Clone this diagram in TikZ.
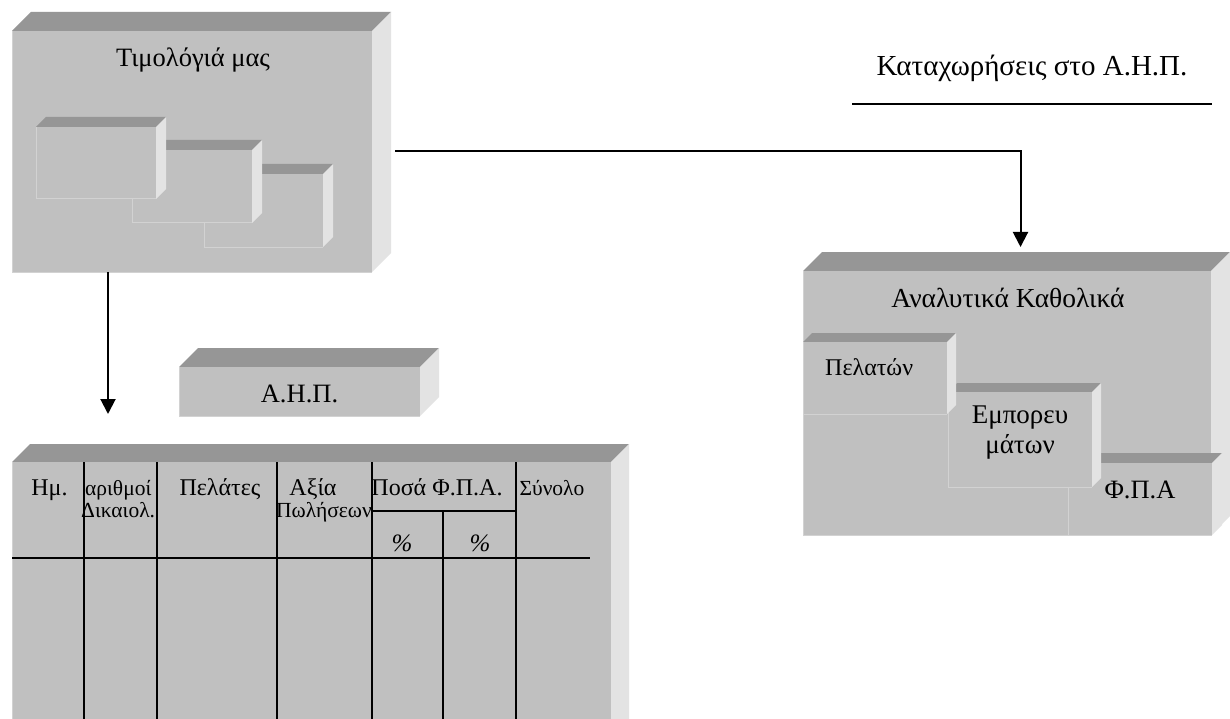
\documentclass[tikz,border=0pt]{standalone}
\usepackage{fontspec}
\setmainfont{Liberation Serif}
\usetikzlibrary{arrows.meta}

\definecolor{slabfront}{HTML}{C0C0C0}
\definecolor{slabtop}{HTML}{969696}
\definecolor{slabside}{HTML}{E3E3E3}
\definecolor{slabedge}{HTML}{D2D2D2}

% A raised slab: top and side faces, then the front face as a named node.
% #1 name, (#2,#3) front top-left, (#4,#5) front bottom-right, #6 depth
\newcommand{\slab}[6]{%
  \fill[slabtop] (#2,#3) -- (#2+#6,#3-#6) -- (#4+#6,#3-#6) -- (#4,#3) -- cycle;
  \fill[slabside] (#4,#3) -- (#4+#6,#3-#6) -- (#4+#6,#5-#6) -- (#4,#5) -- cycle;
  \node[slabface, minimum width={#4-#2}, minimum height={#5-#3}]
    (#1) at ({(#2+#4)/2},{(#3+#5)/2}) {};
  \draw[slabedge, line width=1pt] (#1.north west) -- (#1.south west) -- (#1.south east);
}

\begin{document}
\begin{tikzpicture}[x=1pt,y=-1pt,
  slabface/.style={fill=slabfront, draw=none, inner sep=0pt, outer sep=0pt, anchor=center},
  conn/.style={line width=2pt, -{Triangle[width=15pt,length=15pt]}},
  gridline/.style={line width=2pt},
  big/.style={font=\fontsize{26.5}{30}\selectfont, anchor=base, inner sep=0pt},
  mid/.style={font=\fontsize{24}{28}\selectfont, anchor=base, inner sep=0pt},
  hdr/.style={font=\fontsize{24}{26}\selectfont, anchor=base, inner sep=0pt},
  hdrs/.style={font=\fontsize{21.5}{23}\selectfont, anchor=base, inner sep=0pt},
]
\clip (0,0) rectangle (1230,719);
\fill[white] (0,0) rectangle (1230,719);

% Invoices block with its stacked sheets
\slab{tim}{12}{31}{372}{272}{19}
\slab{shc}{204}{174}{323}{247}{10}
\slab{shb}{132}{150}{252}{223}{10}
\slab{sha}{36}{127}{156}{199}{10}
\node[big] (timlbl) at (193,67) {Τιμολόγιά μας};

% Caption with rule
\node[big, font=\fontsize{29}{32}\selectfont] (cap) at (1032,76) {Καταχωρήσεις στο Α.Η.Π.};
\draw[line width=2pt] (852,104) -- (1212,104);

% Small label block
\slab{ahp}{179}{367}{420}{416}{19}
\node[big] (ahplbl) at (299.5,402) {Α.Η.Π.};

% Ledger table
\slab{tbl}{12}{462}{611}{745}{18}
\draw[gridline] (83.5,462) -- (83.5,719);
\draw[gridline] (156.5,462) -- (156.5,719);
\draw[gridline] (276.5,462) -- (276.5,719);
\draw[gridline] (372,462) -- (372,719);
\draw[gridline] (443,511) -- (443,719);
\draw[gridline] (516,462) -- (516,719);
\draw[gridline] (372,511) -- (516,511);
\draw[gridline] (12,558) -- (590,558);
\node[hdr] (hd1) at (49.5,495) {Ημ.};
\node[hdrs, anchor=base west] (hd2a) at (85,495) {αριθμοί};
\node[hdrs, anchor=base west] (hd2b) at (81,517) {Δικαιολ.};
\node[hdr] (hd3) at (220,495) {Πελάτες};
\node[hdr] (hd4a) at (313,495) {Αξία};
\node[hdrs, anchor=base west] (hd4b) at (276,517) {Πωλήσεων};
\node[hdr] (hd5) at (437,495) {Ποσά Φ.Π.Α.};
\node[hdrs] (hd6) at (552,495) {Σύνολο};
\node[hdr, font=\fontsize{25}{28}\selectfont\itshape] (pc1) at (402,551) {\%};
\node[hdr, font=\fontsize{25}{28}\selectfont\itshape] (pc2) at (480,551) {\%};

% Analytical ledgers block
\slab{anal}{803}{271}{1211}{535}{19}
\node[big, font=\fontsize{27.5}{30}\selectfont] (anallbl) at (1008,307) {Αναλυτικά Καθολικά};
\slab{fpa}{1068}{463}{1212}{535}{10}
\slab{emp}{948}{392}{1092}{487}{9}
\slab{pel}{803}{342}{947}{414}{9}
\node[mid, anchor=base west] (pellbl) at (825,375) {Πελατών};
\node[mid, font=\fontsize{27}{30}\selectfont, align=center, anchor=center] (emplbl) at (1020,433) {Εμπορευ\\μάτων};
\node[mid, font=\fontsize{26.5}{30}\selectfont] (fpalbl) at (1140,498) {Φ.Π.Α};

% Connectors
\coordinate (timR) at ([xshift=23pt]tim.east);
\coordinate (analIn) at ([xshift=13.5pt,yshift=24pt]anal.north);
\draw[conn] (timR) -| (analIn);
\coordinate (timB) at ([xshift=-84pt]tim.south);
\coordinate (tblIn) at ([yshift=48pt]tbl.north);
\draw[conn] (timB) -- (timB |- tblIn);
\end{tikzpicture}
\end{document}
